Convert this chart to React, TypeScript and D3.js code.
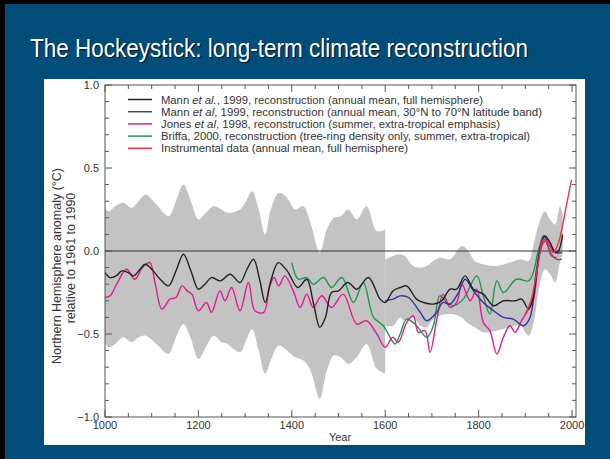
import React, { useLayoutEffect, useRef, useState } from 'react';
import * as d3 from 'd3';

const W = 610;
const H = 459;

// Mann et al. 1999, full NH (black)
const mannNHYears = [1000,1011,1024,1036,1050,1061,1075,1086,1100,1118,1136,1152,1168,1184,1200,1214,1228,1247,1268,1289,1304,1318,1331,1343,1356,1371,1390,1413,1432,1446,1460,1472,1485,1500,1520,1539,1564,1589,1600,1617,1632,1646,1667,1682,1703,1721,1739,1753,1771,1789,1810,1832,1853,1878,1892,1907,1917,1931,1942,1953,1964,1971,1980];
const mannNHValues = [-0.13,-0.16,-0.15,-0.12,-0.13,-0.15,-0.11,-0.08,-0.11,-0.17,-0.21,-0.12,-0.02,-0.12,-0.23,-0.2,-0.16,-0.18,-0.14,-0.19,-0.11,-0.05,-0.17,-0.31,-0.17,-0.07,-0.12,-0.22,-0.17,-0.31,-0.46,-0.4,-0.25,-0.24,-0.19,-0.23,-0.16,-0.29,-0.31,-0.24,-0.22,-0.21,-0.29,-0.31,-0.32,-0.3,-0.23,-0.23,-0.15,-0.23,-0.26,-0.33,-0.3,-0.3,-0.29,-0.35,-0.27,-0.01,0.09,0.05,-0.01,0.0,0.1];

// Mann et al. 1999, 30N-70N (blue)
const mannBandYears = [1600,1617,1632,1650,1675,1689,1710,1724,1739,1757,1771,1789,1810,1832,1853,1874,1896,1910,1924,1939,1953,1967,1978];
const mannBandValues = [-0.3,-0.29,-0.27,-0.28,-0.37,-0.42,-0.37,-0.31,-0.32,-0.25,-0.17,-0.24,-0.31,-0.36,-0.4,-0.41,-0.45,-0.4,-0.11,0.09,0.03,-0.01,-0.01];

// Jones et al. 1998 (magenta)
const jonesYears = [1000,1011,1025,1046,1064,1080,1096,1107,1122,1139,1152,1165,1176,1186,1200,1217,1228,1246,1257,1271,1289,1307,1321,1340,1352,1362,1372,1385,1403,1418,1432,1446,1464,1485,1510,1539,1560,1582,1600,1616,1628,1646,1660,1671,1685,1696,1710,1724,1739,1753,1764,1782,1796,1810,1824,1839,1853,1867,1878,1892,1907,1917,1931,1942,1956,1967,1978];
const jonesValues = [-0.28,-0.27,-0.2,-0.11,-0.17,-0.1,-0.07,-0.19,-0.35,-0.29,-0.28,-0.21,-0.24,-0.26,-0.36,-0.31,-0.37,-0.24,-0.3,-0.22,-0.36,-0.19,-0.36,-0.37,-0.22,-0.16,-0.21,-0.15,-0.24,-0.34,-0.26,-0.34,-0.27,-0.34,-0.26,-0.44,-0.42,-0.5,-0.58,-0.52,-0.55,-0.43,-0.39,-0.49,-0.48,-0.61,-0.42,-0.26,-0.34,-0.31,-0.2,-0.3,-0.23,-0.43,-0.48,-0.62,-0.52,-0.45,-0.49,-0.42,-0.35,-0.3,-0.01,0.06,-0.02,-0.05,-0.05];

// Briffa 2000 (green)
const briffaYears = [1400,1414,1432,1446,1468,1485,1507,1532,1553,1575,1596,1621,1632,1646,1667,1689,1703,1717,1732,1746,1767,1796,1810,1824,1839,1853,1881,1907,1917,1931,1942,1956,1967];
const briffaValues = [-0.07,-0.17,-0.16,-0.2,-0.16,-0.22,-0.16,-0.31,-0.19,-0.4,-0.45,-0.56,-0.5,-0.41,-0.45,-0.52,-0.45,-0.27,-0.31,-0.33,-0.29,-0.15,-0.27,-0.38,-0.18,-0.25,-0.17,-0.18,-0.13,0.03,0.07,-0.03,-0.04];

// Instrumental (red)
const instrYears = [1900,1912,1928,1939,1949,1960,1971,1981,1989,1999];
const instrValues = [-0.38,-0.3,-0.07,0.07,0.05,-0.01,0.05,0.17,0.29,0.43];

// Uncertainty band, 1000-1600
const bandAYears = [1000,1008,1022,1039,1057,1072,1087,1110,1136,1152,1168,1184,1200,1216,1232,1250,1262,1289,1302,1315,1329,1343,1355,1372,1390,1407,1425,1440,1460,1475,1490,1505,1521,1539,1560,1582,1600];
const bandAUpper = [0.26,0.24,0.27,0.29,0.26,0.3,0.34,0.28,0.21,0.3,0.4,0.3,0.19,0.23,0.27,0.25,0.23,0.25,0.3,0.36,0.25,0.1,0.25,0.35,0.32,0.25,0.27,0.17,-0.01,0.13,0.2,0.21,0.25,0.19,0.27,0.12,0.13];
const bandALower = [-0.55,-0.58,-0.56,-0.52,-0.55,-0.52,-0.51,-0.56,-0.62,-0.52,-0.44,-0.53,-0.65,-0.58,-0.51,-0.55,-0.56,-0.61,-0.54,-0.47,-0.6,-0.74,-0.66,-0.57,-0.6,-0.64,-0.66,-0.72,-0.89,-0.72,-0.63,-0.64,-0.68,-0.64,-0.56,-0.71,-0.74];

// Uncertainty band, 1600-1980
const bandBYears = [1600,1617,1632,1642,1660,1675,1689,1703,1717,1739,1764,1775,1792,1810,1839,1867,1889,1907,1917,1931,1942,1953,1964,1974,1980];
const bandBUpper = [-0.05,-0.03,-0.02,-0.03,-0.09,-0.1,-0.09,-0.06,-0.04,-0.05,0.03,0.01,-0.06,-0.08,-0.09,-0.07,-0.05,-0.06,0.03,0.18,0.24,0.19,0.16,0.27,0.22];
const bandBLower = [-0.45,-0.45,-0.4,-0.42,-0.4,-0.45,-0.46,-0.41,-0.39,-0.38,-0.4,-0.43,-0.46,-0.49,-0.48,-0.46,-0.45,-0.51,-0.44,-0.2,-0.11,-0.14,-0.19,-0.07,-0.02];

const xMajorTicks = [1000, 1200, 1400, 1600, 1800, 2000];
const yTickValues = [-1, -0.5, 0, 0.5, 1];
const yTickLabels = ['\u22121.0', '\u22120.5', '0.0', '0.5', '1.0'];

const titleText = 'The Hockeystick: long-term climate reconstruction';
const yLabelLines = ['Northern Hemisphere anomaly (\u00b0C)', 'relative to 1961 to 1990'];

const legendEntries = [
  { color: '#222222', parts: [['Mann ', false], ['et al.', true], [', 1999, reconstruction (annual mean, full hemisphere)', false]] },
  { color: '#3b3ba6', parts: [['Mann ', false], ['et al', true], [', 1999, reconstruction (annual mean, 30\u00b0N to 70\u00b0N latitude band)', false]] },
  { color: '#e41a8c', parts: [['Jones ', false], ['et al', true], [', 1998, reconstruction (summer, extra-tropical emphasis)', false]] },
  { color: '#1a9a4e', parts: [['Briffa, 2000, reconstruction (tree-ring density only, summer, extra-tropical)', false]] },
  { color: '#ee3340', parts: [['Instrumental data (annual mean, full hemisphere)', false]] },
];
const legendWidths = [322, 381, 339, 369, 247];

export default function App() {
  const titleRef = useRef<SVGTextElement>(null);
  const [titleScale, setTitleScale] = useState(0.82);

  useLayoutEffect(() => {
    if (titleRef.current) {
      const len = titleRef.current.getComputedTextLength();
      if (len > 0) setTitleScale(498 / len);
    }
  }, []);

  const x = d3.scaleLinear().domain([1000, 2008.5]).range([105, 576]);
  const y = d3.scaleLinear().domain([-1, 1]).range([417, 85]);

  const line = d3.line<[number, number]>().x(d => x(d[0])).y(d => y(d[1])).curve(d3.curveCatmullRom.alpha(0.5));
  const area = d3.area<[number, number, number]>()
    .x(d => x(d[0])).y0(d => y(d[2])).y1(d => y(d[1]))
    .curve(d3.curveCatmullRom.alpha(0.5));

  const zip = (a: number[], b: number[]) => a.map((v, i) => [v, b[i]] as [number, number]);
  const zip3 = (a: number[], b: number[], c: number[]) => a.map((v, i) => [v, b[i], c[i]] as [number, number, number]);

  const series = [
    { d: zip(briffaYears, briffaValues), c: '#1a9a4e' },
    { d: zip(jonesYears, jonesValues), c: '#e41a8c' },
    { d: zip(mannBandYears, mannBandValues), c: '#33339a' },
    { d: zip(mannNHYears, mannNHValues), c: '#222222' },
    { d: zip(instrYears, instrValues), c: '#ee3340' },
  ];

  const xMinor = d3.range(1000, 2001, 50);
  const yMinor = d3.range(-10, 11).map(v => v / 10);
  const axisColor = '#555';
  const textColor = '#333';
  const xl = x(1000);
  const xr = 576;
  const yt = 85;
  const yb = 417;
  const font = "'Liberation Sans', Arial, Helvetica, sans-serif";
  const titleFont = "'Liberation Sans', Arial, sans-serif";

  return (
    <svg width={W} height={H} style={{ position: 'absolute', left: 0, top: 0 }} xmlns="http://www.w3.org/2000/svg">
      <rect x={0} y={0} width={W} height={H} fill="#000" />
      <rect x={5} y={4} width={W - 5} height={H - 4} fill="#014d79" />
      <g transform={`translate(31.3,58.3) scale(${titleScale},1)`}>
        <text x={0} y={0} fill="#0a0a0a" opacity={0.75} fontFamily={titleFont} fontSize={26}>{titleText}</text>
      </g>
      <g transform={`translate(30,57) scale(${titleScale},1)`}>
        <text ref={titleRef} x={0} y={0} fill="#fff" fontFamily={titleFont} fontSize={26}>{titleText}</text>
      </g>

      <rect x={44} y={79} width={541} height={366} fill="#fff" />

      <path d={area(zip3(bandAYears, bandAUpper, bandALower)) || ''} fill="#c3c3c3" />
      <path d={area(zip3(bandBYears, bandBUpper, bandBLower)) || ''} fill="#c3c3c3" />

      <line x1={xl} x2={xr} y1={y(0)} y2={y(0)} stroke="#333" strokeWidth={1} />

      {series.map((s, i) => (
        <path key={i} d={line(s.d) || ''} fill="none" stroke={s.c} strokeWidth={1.4} strokeLinejoin="round" />
      ))}

      <rect x={xl} y={yt} width={xr - xl} height={yb - yt} fill="none" stroke={axisColor} strokeWidth={1} />
      {xMinor.map(v => {
        const major = v % 200 === 0;
        const len = major ? 7 : 4;
        return (
          <g key={'xt' + v}>
            <line x1={x(v)} x2={x(v)} y1={yb} y2={yb - len} stroke={axisColor} strokeWidth={1} />
            <line x1={x(v)} x2={x(v)} y1={yt} y2={yt + len} stroke={axisColor} strokeWidth={1} />
          </g>
        );
      })}
      {yMinor.map(v => {
        const major = Math.abs((v * 10) % 5) < 1e-6;
        const len = major ? 7 : 4;
        return (
          <g key={'yt' + v}>
            <line x1={xl} x2={xl + len} y1={y(v)} y2={y(v)} stroke={axisColor} strokeWidth={1} />
            <line x1={xr} x2={xr - len} y1={y(v)} y2={y(v)} stroke={axisColor} strokeWidth={1} />
          </g>
        );
      })}
      {xMajorTicks.map(v => (
        <text key={'xl' + v} x={x(v)} y={429} textAnchor="middle" fontFamily={font} fontSize={11} fill={textColor}>{v}</text>
      ))}
      {yTickValues.map((v, i) => (
        <text key={'yl' + v} x={99} y={y(v) + 4} textAnchor="end" fontFamily={font} fontSize={11} fill={textColor}>{yTickLabels[i]}</text>
      ))}
      <text x={340} y={441} textAnchor="middle" fontFamily={font} fontSize={11} fill={textColor}>Year</text>
      <text transform="translate(61,266) rotate(-90)" textAnchor="middle" fontFamily={font} fontSize={12.5} fill={textColor}>{yLabelLines[0]}</text>
      <text transform="translate(75,258) rotate(-90)" textAnchor="middle" fontFamily={font} fontSize={12.5} fill={textColor}>{yLabelLines[1]}</text>

      {legendEntries.map((e, i) => {
        const ly = 99.5 + i * 12.2;
        return (
          <g key={'lg' + i}>
            <line x1={128} x2={152} y1={ly} y2={ly} stroke={e.color} strokeWidth={1.5} />
            <text x={161} y={ly + 4} fontFamily={font} fontSize={11} fill={textColor} textLength={legendWidths[i]} lengthAdjust="spacingAndGlyphs">
              {e.parts.map((p, j) => (
                <tspan key={j} fontStyle={p[1] ? 'italic' : 'normal'}>{p[0] as string}</tspan>
              ))}
            </text>
          </g>
        );
      })}
    </svg>
  );
}
